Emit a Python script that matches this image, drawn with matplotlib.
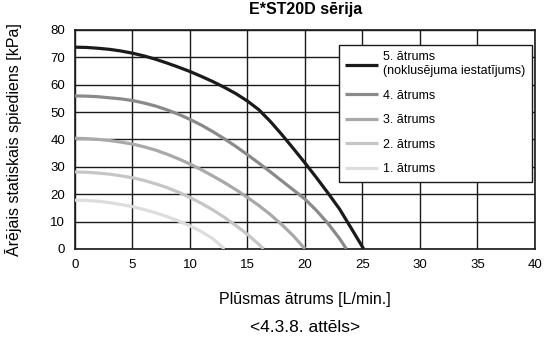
import matplotlib.pyplot as plt

# flow rate [L/min] and static pressure [kPa]
x5 = [0, 1, 2, 3, 4, 5, 6, 7, 8, 9, 10, 11, 12, 13, 14, 15, 16, 17, 18, 19, 20, 21, 22, 23, 24, 25.1]
y5 = [73.7, 73.6, 73.3, 72.9, 72.3, 71.5, 70.5, 69.3, 67.9, 66.4, 64.8, 63.0, 61.1, 59.0, 56.7,
      54.0, 50.8, 46.5, 41.7, 36.6, 31.4, 26.0, 20.4, 14.6, 7.7, 0]
x4 = [0, 1, 2, 3, 4, 5, 6, 7, 8, 9, 10, 11, 12, 13, 14, 15, 16, 17, 18, 19, 20, 21, 22, 23, 23.6]
y4 = [55.9, 55.8, 55.6, 55.2, 54.8, 54.2, 53.3, 52.2, 50.8, 49.2, 47.3, 45.2, 42.8, 40.2, 37.4,
      34.4, 31.3, 28.1, 24.8, 21.5, 18.2, 14.0, 9.3, 3.8, 0]
x3 = [0, 1, 2, 3, 4, 5, 6, 7, 8, 9, 10, 11, 12, 13, 14, 15, 16, 17, 18, 19, 20]
y3 = [40.4, 40.3, 40.0, 39.6, 39.0, 38.3, 37.3, 36.1, 34.6, 32.9, 31.0, 28.9, 26.6, 24.2, 21.6,
      18.8, 15.8, 12.5, 8.8, 4.7, 0]
x2 = [0, 1, 2, 3, 4, 5, 6, 7, 8, 9, 10, 11, 12, 13, 14, 15, 16, 16.4]
y2 = [28.1, 28.0, 27.7, 27.3, 26.7, 26.0, 25.0, 23.8, 22.4, 20.7, 18.8, 16.6, 14.2, 11.5, 8.5,
      5.3, 1.6, 0]
x1 = [0, 1, 2, 3, 4, 5, 6, 7, 8, 9, 10, 11, 12, 13.0]
y1 = [17.8, 17.7, 17.4, 16.9, 16.2, 15.4, 14.4, 13.2, 11.8, 10.2, 8.4, 6.3, 3.7, 0]

labels = ['5. ātrums\n(noklusējuma iestatījums)', '4. ātrums', '3. ātrums', '2. ātrums', '1. ātrums']
colors = ['#1a1a1a', '#8a8a8a', '#a9a9a9', '#c6c6c6', '#dddddd']

plt.rcParams['font.family'] = ['Liberation Sans', 'DejaVu Sans']

fig = plt.figure(figsize=(5.45, 3.4), dpi=100)
ax = fig.add_axes([0.1376, 0.268, 0.844, 0.644])

series = [(x5, y5), (x4, y4), (x3, y3), (x2, y2), (x1, y1)]
for (xs, ys), lab, col in zip(series, labels, colors):
    ax.plot(xs, ys, color=col, lw=2.3, label=lab, solid_capstyle='butt',
            solid_joinstyle='round', zorder=3)

ax.set_xlim(0, 40)
ax.set_ylim(0, 80)
ax.set_xticks(range(0, 41, 5))
ax.set_yticks(range(0, 81, 10))
ax.grid(True, color='#1a1a1a', lw=1.0)
ax.set_axisbelow(True)
ax.tick_params(length=0, labelsize=9.5, pad=7)
for s in ax.spines.values():
    s.set_color('#1a1a1a')
    s.set_linewidth(1.2)

leg = ax.legend(loc='upper left', bbox_to_anchor=(0.574, 0.93), fancybox=False,
                framealpha=1, edgecolor='#1a1a1a', fontsize=9, handlelength=2.6,
                labelspacing=1.0, borderpad=0.5, handletextpad=0.45, borderaxespad=0)
leg.get_frame().set_linewidth(1.0)

fig.text(0.56, 0.972, 'E*ST20D sērija', ha='center', va='center', fontsize=11.5, fontweight='bold')
fig.text(0.56, 0.12, 'Plūsmas ātrums [L/min.]', ha='center', va='center', fontsize=11.5)
fig.text(0.56, 0.037, '<4.3.8. attēls>', ha='center', va='center', fontsize=12.5)
fig.text(0.024, 0.59, 'Ārējais statiskais spiediens [kPa]', ha='center', va='center',
         rotation=90, fontsize=11.5)

fig.savefig('out.png', dpi=100)
